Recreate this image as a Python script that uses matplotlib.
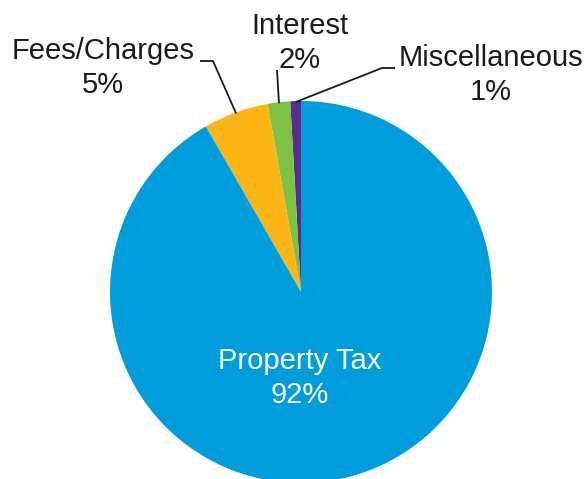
import matplotlib
matplotlib.use("Agg")
import matplotlib.pyplot as plt
import numpy as np

categories = ["Miscellaneous", "Interest", "Fees/Charges", "Property Tax"]
values = [0.9, 1.9, 5.5, 91.7]
pct_labels = ["1%", "2%", "5%", "92%"]
colors = ["#5B2C8F", "#7DC242", "#FDB515", "#009DDC"]

plt.rcParams['font.family'] = ['Liberation Sans', 'DejaVu Sans']

W, H = 588, 479
fig = plt.figure(figsize=(W / 100, H / 100), dpi=100)
ax = fig.add_axes([0, 0, 1, 1])

cx, cy, r = 301, H - 292, 191
wedges, _ = ax.pie(values, colors=colors, startangle=90, counterclock=True,
                   center=(cx, cy), radius=r, frame=True,
                   wedgeprops=dict(linewidth=0))
ax.set_xlim(0, W)
ax.set_ylim(0, H)
ax.set_aspect('equal')
ax.axis('off')

fs = 21
ls = 1.28
# inside label for Property Tax
ax.text(300, H - 378, f"{categories[3]}\n{pct_labels[3]}", ha='center', va='center',
        color='white', fontsize=fs, linespacing=ls)

def mid_point(w, rr):
    a = np.deg2rad((w.theta1 + w.theta2) / 2)
    return cx + rr * np.cos(a), cy + rr * np.sin(a)

# label positions (text centers) and leader lines
lab_pos = {0: (491, H - 75), 1: (300, H - 43), 2: (103, H - 68)}
line_knee = {0: [(395, H - 68), (382, H - 68)],
             1: [(277, H - 70)],
             2: [(200, H - 61), (213, H - 61)]}
for i in [0, 1, 2]:
    x, y = lab_pos[i]
    ax.text(x, y, f"{categories[i]}\n{pct_labels[i]}", ha='center', va='center',
            color='#1a1a1a', fontsize=fs, linespacing=ls)
    ex, ey = mid_point(wedges[i], r - 1)
    pts = line_knee[i] + [(ex, ey)]
    xs, ys = zip(*pts)
    ax.plot(xs, ys, color='#1a1a1a', lw=1.3, solid_capstyle='butt')

fig.savefig("out.png", dpi=100, facecolor='white')
